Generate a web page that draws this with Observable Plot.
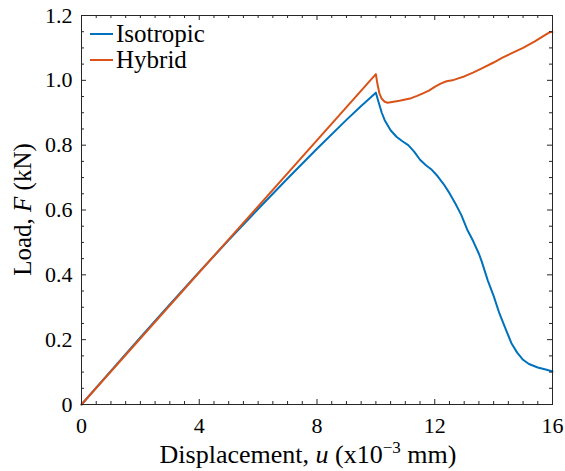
<!DOCTYPE html>
<html><head><meta charset="utf-8">
<script src="https://cdn.jsdelivr.net/npm/d3@7"></script>
<script src="https://cdn.jsdelivr.net/npm/@observablehq/plot@0.6"></script>
<style>body{margin:0;background:#fff}</style>
</head><body><div id="chart"></div>
<script>
const seriesNames = ["Isotropic", "Hybrid"];
const seriesColors = ["#0072BD", "#D95319"];

const isoU = [0, 1, 2, 3, 4, 5, 6, 7, 8, 9, 9.5, 10.0, 10.1, 10.2, 10.3, 10.5, 10.7, 10.9, 11.1, 11.3, 11.5, 11.7, 11.9, 12.1, 12.3, 12.5, 12.7, 12.9, 13.1, 13.3, 13.5, 13.6, 13.8, 14.0, 14.2, 14.4, 14.6, 14.8, 15.0, 15.2, 15.5, 15.8, 16.0];
const isoF = [0, 0.104, 0.207, 0.309, 0.409, 0.507, 0.603, 0.697, 0.789, 0.878, 0.921, 0.962, 0.93, 0.90, 0.877, 0.846, 0.826, 0.812, 0.80, 0.78, 0.755, 0.738, 0.724, 0.704, 0.68, 0.652, 0.62, 0.585, 0.54, 0.505, 0.465, 0.44, 0.383, 0.335, 0.28, 0.235, 0.19, 0.16, 0.138, 0.125, 0.114, 0.107, 0.102];

const hybU = [0, 5, 10.0, 10.05, 10.12, 10.2, 10.3, 10.4, 10.6, 10.8, 11.0, 11.2, 11.4, 11.6, 11.8, 12.0, 12.2, 12.4, 12.6, 12.8, 13.0, 13.3, 13.6, 14.0, 14.3, 14.6, 15.0, 15.4, 15.7, 15.9, 16.0];
const hybF = [0, 0.5095, 1.019, 0.99, 0.96, 0.943, 0.934, 0.931, 0.934, 0.937, 0.941, 0.945, 0.952, 0.96, 0.968, 0.98, 0.99, 0.997, 1.0, 1.006, 1.012, 1.024, 1.037, 1.055, 1.07, 1.083, 1.1, 1.12, 1.137, 1.148, 1.149];

const xTicks = [0, 4, 8, 12, 16];
const xMinor = [0.5,1,1.5,2,2.5,3,3.5,4.5,5,5.5,6,6.5,7,7.5,8.5,9,9.5,10,10.5,11,11.5,12.5,13,13.5,14,14.5,15,15.5];
const yTicks = [0, 0.2, 0.4, 0.6, 0.8, 1.0, 1.2];
const yMinor = [0.05,0.1,0.15,0.25,0.3,0.35,0.45,0.5,0.55,0.65,0.7,0.75,0.85,0.9,0.95,1.05,1.1,1.15];

const data = [
  ...isoU.map((u, i) => ({u, F: isoF[i], s: seriesNames[0]})),
  ...hybU.map((u, i) => ({u, F: hybF[i], s: seriesNames[1]}))
];

const W = 565, H = 471, mL = 81, mR = 13, mT = 15, mB = 67;
const fw = W - mL - mR, fh = H - mT - mB;
const axisColor = "#262626";
const font = "Liberation Serif";

const chart = Plot.plot({
  width: W, height: H,
  marginLeft: mL, marginRight: mR, marginTop: mT, marginBottom: mB,
  style: {fontFamily: font, fontSize: "22px", background: "#fff", color: "#000"},
  x: {domain: [0, 16], label: null},
  y: {domain: [0, 1.2], label: null},
  color: {domain: seriesNames, range: seriesColors},
  marks: [
    Plot.line(data, {x: "u", y: "F", z: "s", stroke: "s", strokeWidth: 2}),
    Plot.tickX(xTicks, {x: d => d, insetTop: fh - 5, stroke: axisColor}),
    Plot.tickX(xTicks, {x: d => d, insetBottom: fh - 5, stroke: axisColor}),
    Plot.tickX(xMinor, {x: d => d, insetTop: fh - 3, stroke: axisColor}),
    Plot.tickX(xMinor, {x: d => d, insetBottom: fh - 3, stroke: axisColor}),
    Plot.tickY(yTicks, {y: d => d, insetRight: fw - 5, stroke: axisColor}),
    Plot.tickY(yTicks, {y: d => d, insetLeft: fw - 5, stroke: axisColor}),
    Plot.tickY(yMinor, {y: d => d, insetRight: fw - 3, stroke: axisColor}),
    Plot.tickY(yMinor, {y: d => d, insetLeft: fw - 3, stroke: axisColor}),
    Plot.frame({stroke: axisColor}),
    Plot.axisX(xTicks, {tickSize: 0, tickPadding: 13, fontSize: 22, label: null}),
    Plot.axisY(yTicks, {tickSize: 0, tickPadding: 9, fontSize: 22, label: null,
      tickFormat: d => d === 0 ? "0" : d.toFixed(1)})
  ]
});
document.getElementById("chart").appendChild(chart);

const svg = d3.select(chart);
// x axis label
const xl = svg.append("text").attr("x", 308).attr("y", 463)
  .attr("text-anchor", "middle").attr("font-size", 26).attr("font-family", font).attr("fill", "#000");
xl.append("tspan").text("Displacement, ");
xl.append("tspan").attr("font-style", "italic").text("u");
xl.append("tspan").text(" (x10");
xl.append("tspan").attr("font-size", 17).attr("dy", -10).text("\u22123");
xl.append("tspan").attr("dy", 10).text(" mm)");

// y axis label
const yl = svg.append("text").attr("transform", `translate(31,${mT + fh / 2}) rotate(-90)`)
  .attr("text-anchor", "middle").attr("font-size", 25).attr("font-family", font).attr("fill", "#000");
yl.append("tspan").text("Load, ");
yl.append("tspan").attr("font-style", "italic").text("F");
yl.append("tspan").text(" (kN)");

// legend
const lg = svg.append("g").attr("font-family", font).attr("font-size", 25).attr("text-anchor", "start");
seriesNames.forEach((name, i) => {
  const cy = 34 + i * 26;
  lg.append("line").attr("x1", 90).attr("x2", 113).attr("y1", cy).attr("y2", cy)
    .attr("stroke", seriesColors[i]).attr("stroke-width", 2);
  lg.append("text").attr("x", 116).attr("y", cy + 8).attr("text-anchor", "start").attr("fill", "#000").text(name);
});
</script>
</body></html>
